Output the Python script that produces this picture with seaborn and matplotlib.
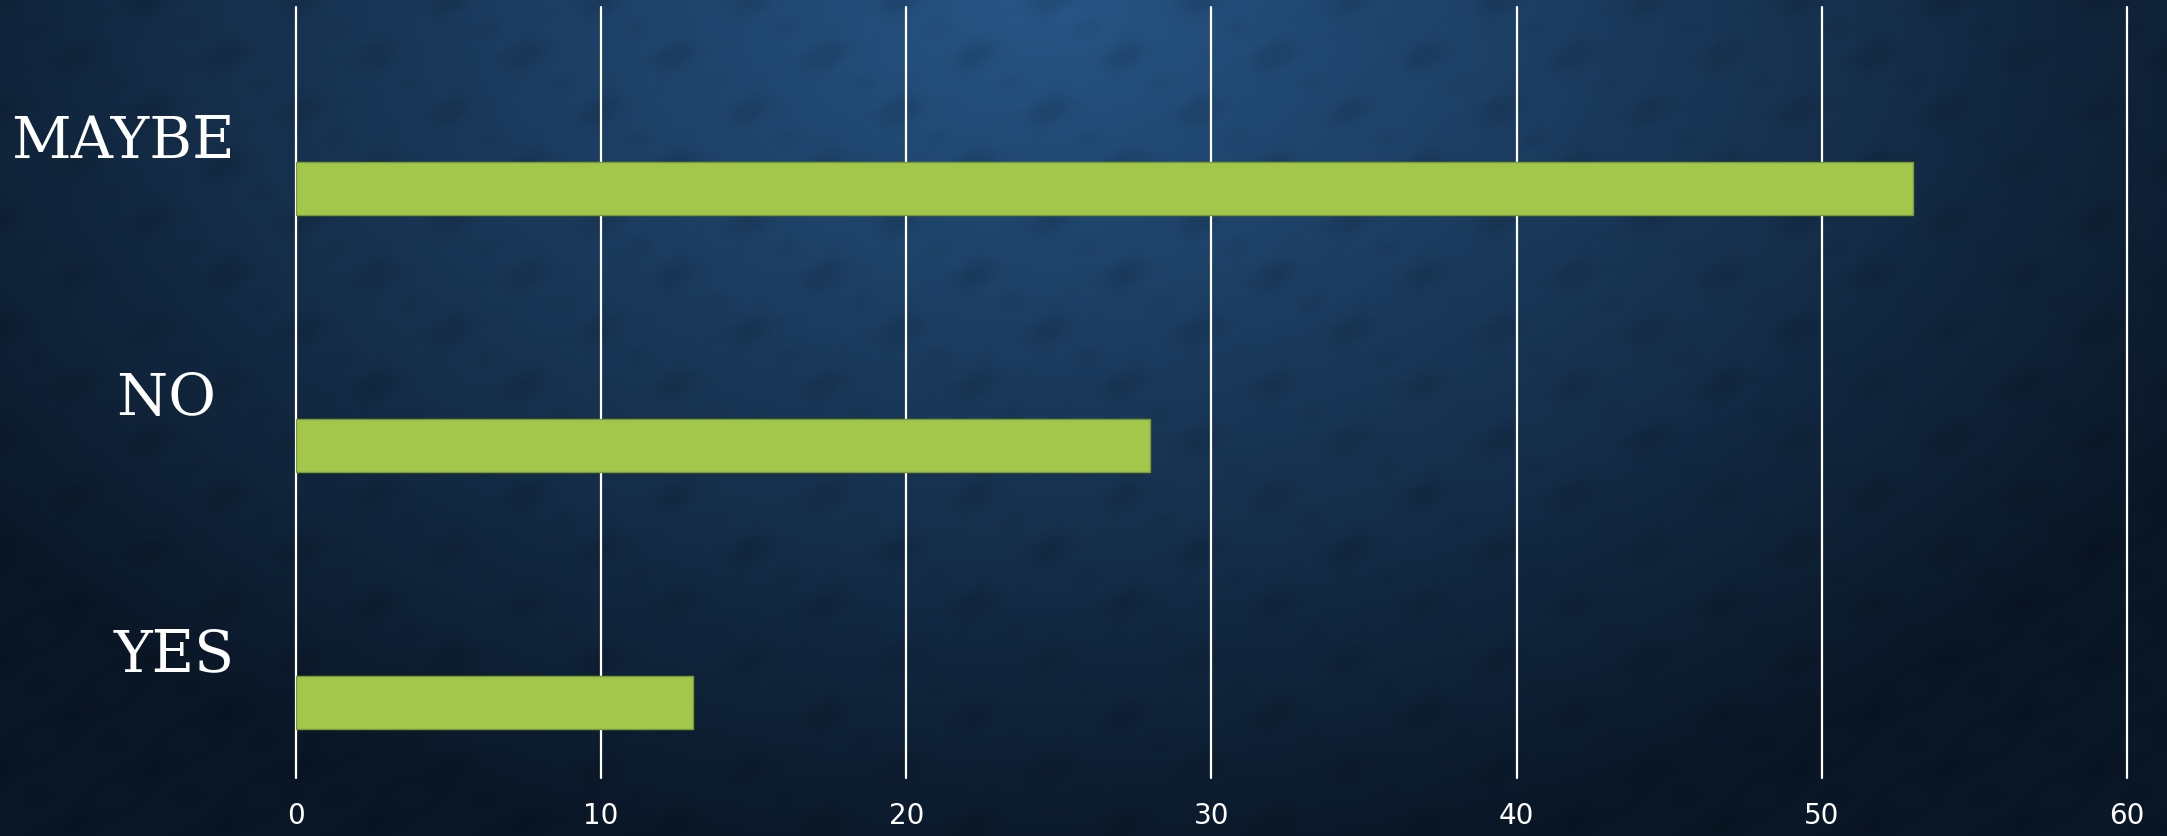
import numpy as np
import pandas as pd
import matplotlib
matplotlib.use("Agg")
import matplotlib.pyplot as plt
import seaborn as sns

# ==========================
# DATA
# ==========================

categories = ["MAYBE", "NO", "YES"]
tick_labels = ["MAYBE", "NO ", "YES"]
series_1 = [53, 28, 13]
# powerpoint template had 3 series, only the first one is filled in
series_names = ["Series 3", "Series 2", "Series 1"]
x_ticks = [0, 10, 20, 30, 40, 50, 60]

rows = []
for cat, val in zip(categories, series_1):
    rows.append({"answer": cat, "series": "Series 1", "count": val})
    rows.append({"answer": cat, "series": "Series 2", "count": np.nan})
    rows.append({"answer": cat, "series": "Series 3", "count": np.nan})
df = pd.DataFrame(rows)

# ==========================
# FIGURE + BACKGROUND
# ==========================

sns.set_style("white")

fig = plt.figure(figsize=(21.67, 8.36), dpi=100)

bg = fig.add_axes([0, 0, 1, 1])
bg.set_axis_off()
W, H = 1084, 418
gx, gy = np.meshgrid(np.linspace(0, 1, W), np.linspace(0, 1, H))
dist = np.sqrt(((gx - 0.48) / 0.62) ** 2 + ((gy - 0.0) / 1.05) ** 2)
dist = np.clip(dist, 0, 1)
light = np.array([0x27, 0x55, 0x86]) / 255
dark = np.array([0x0a, 0x17, 0x27]) / 255
img = light[None, None, :] * (1 - dist[..., None]) + dark[None, None, :] * dist[..., None]

# rough damask-ish wallpaper texture
px = gx * W / 75.0
py = gy * H / 55.0
damask = (np.cos(2 * np.pi * px) * np.cos(2 * np.pi * py)
          + 0.6 * np.cos(4 * np.pi * (px + py)) * np.cos(2 * np.pi * (px - py)))
damask = np.clip(damask, 0, None)
img = img * (1 - 0.07 * damask[..., None])
bg.imshow(np.clip(img, 0, 1), aspect="auto", extent=[0, 1, 1, 0],
          interpolation="bilinear")

ax = fig.add_axes([0.1366, 0.0694, 0.9815 - 0.1366, 0.9916 - 0.0694])
ax.patch.set_alpha(0)

sns.barplot(
    data=df,
    x="count",
    y="answer",
    hue="series",
    order=categories,
    hue_order=series_names,
    palette={"Series 1": "#a3c74a", "Series 2": "#a3c74a", "Series 3": "#a3c74a"},
    saturation=1,
    width=0.62,
    edgecolor="#7a9a36",
    linewidth=1,
    errorbar=None,
    legend=False,
    ax=ax,
)

ax.set_xlim(0, 60)
ax.set_xticks(x_ticks)
ax.set_ylim(2.5, -0.5)

for v in x_ticks:
    ax.axvline(v, color="white", linewidth=1.6, zorder=0, clip_on=False)

for s in ax.spines.values():
    s.set_visible(False)

ax.set_xlabel("")
ax.set_ylabel("")
ax.set_yticks(range(len(categories)))
ax.set_yticklabels(tick_labels, family=["DejaVu Serif"], fontsize=42, color="white")
ax.set_xticklabels([str(v) for v in x_ticks],
                   family=["DejaVu Sans"], fontsize=20, color="white")
ax.tick_params(axis="y", length=0, pad=44)
ax.tick_params(axis="x", length=0, pad=17)

fig.savefig("out.png", dpi=100)
plt.close()
